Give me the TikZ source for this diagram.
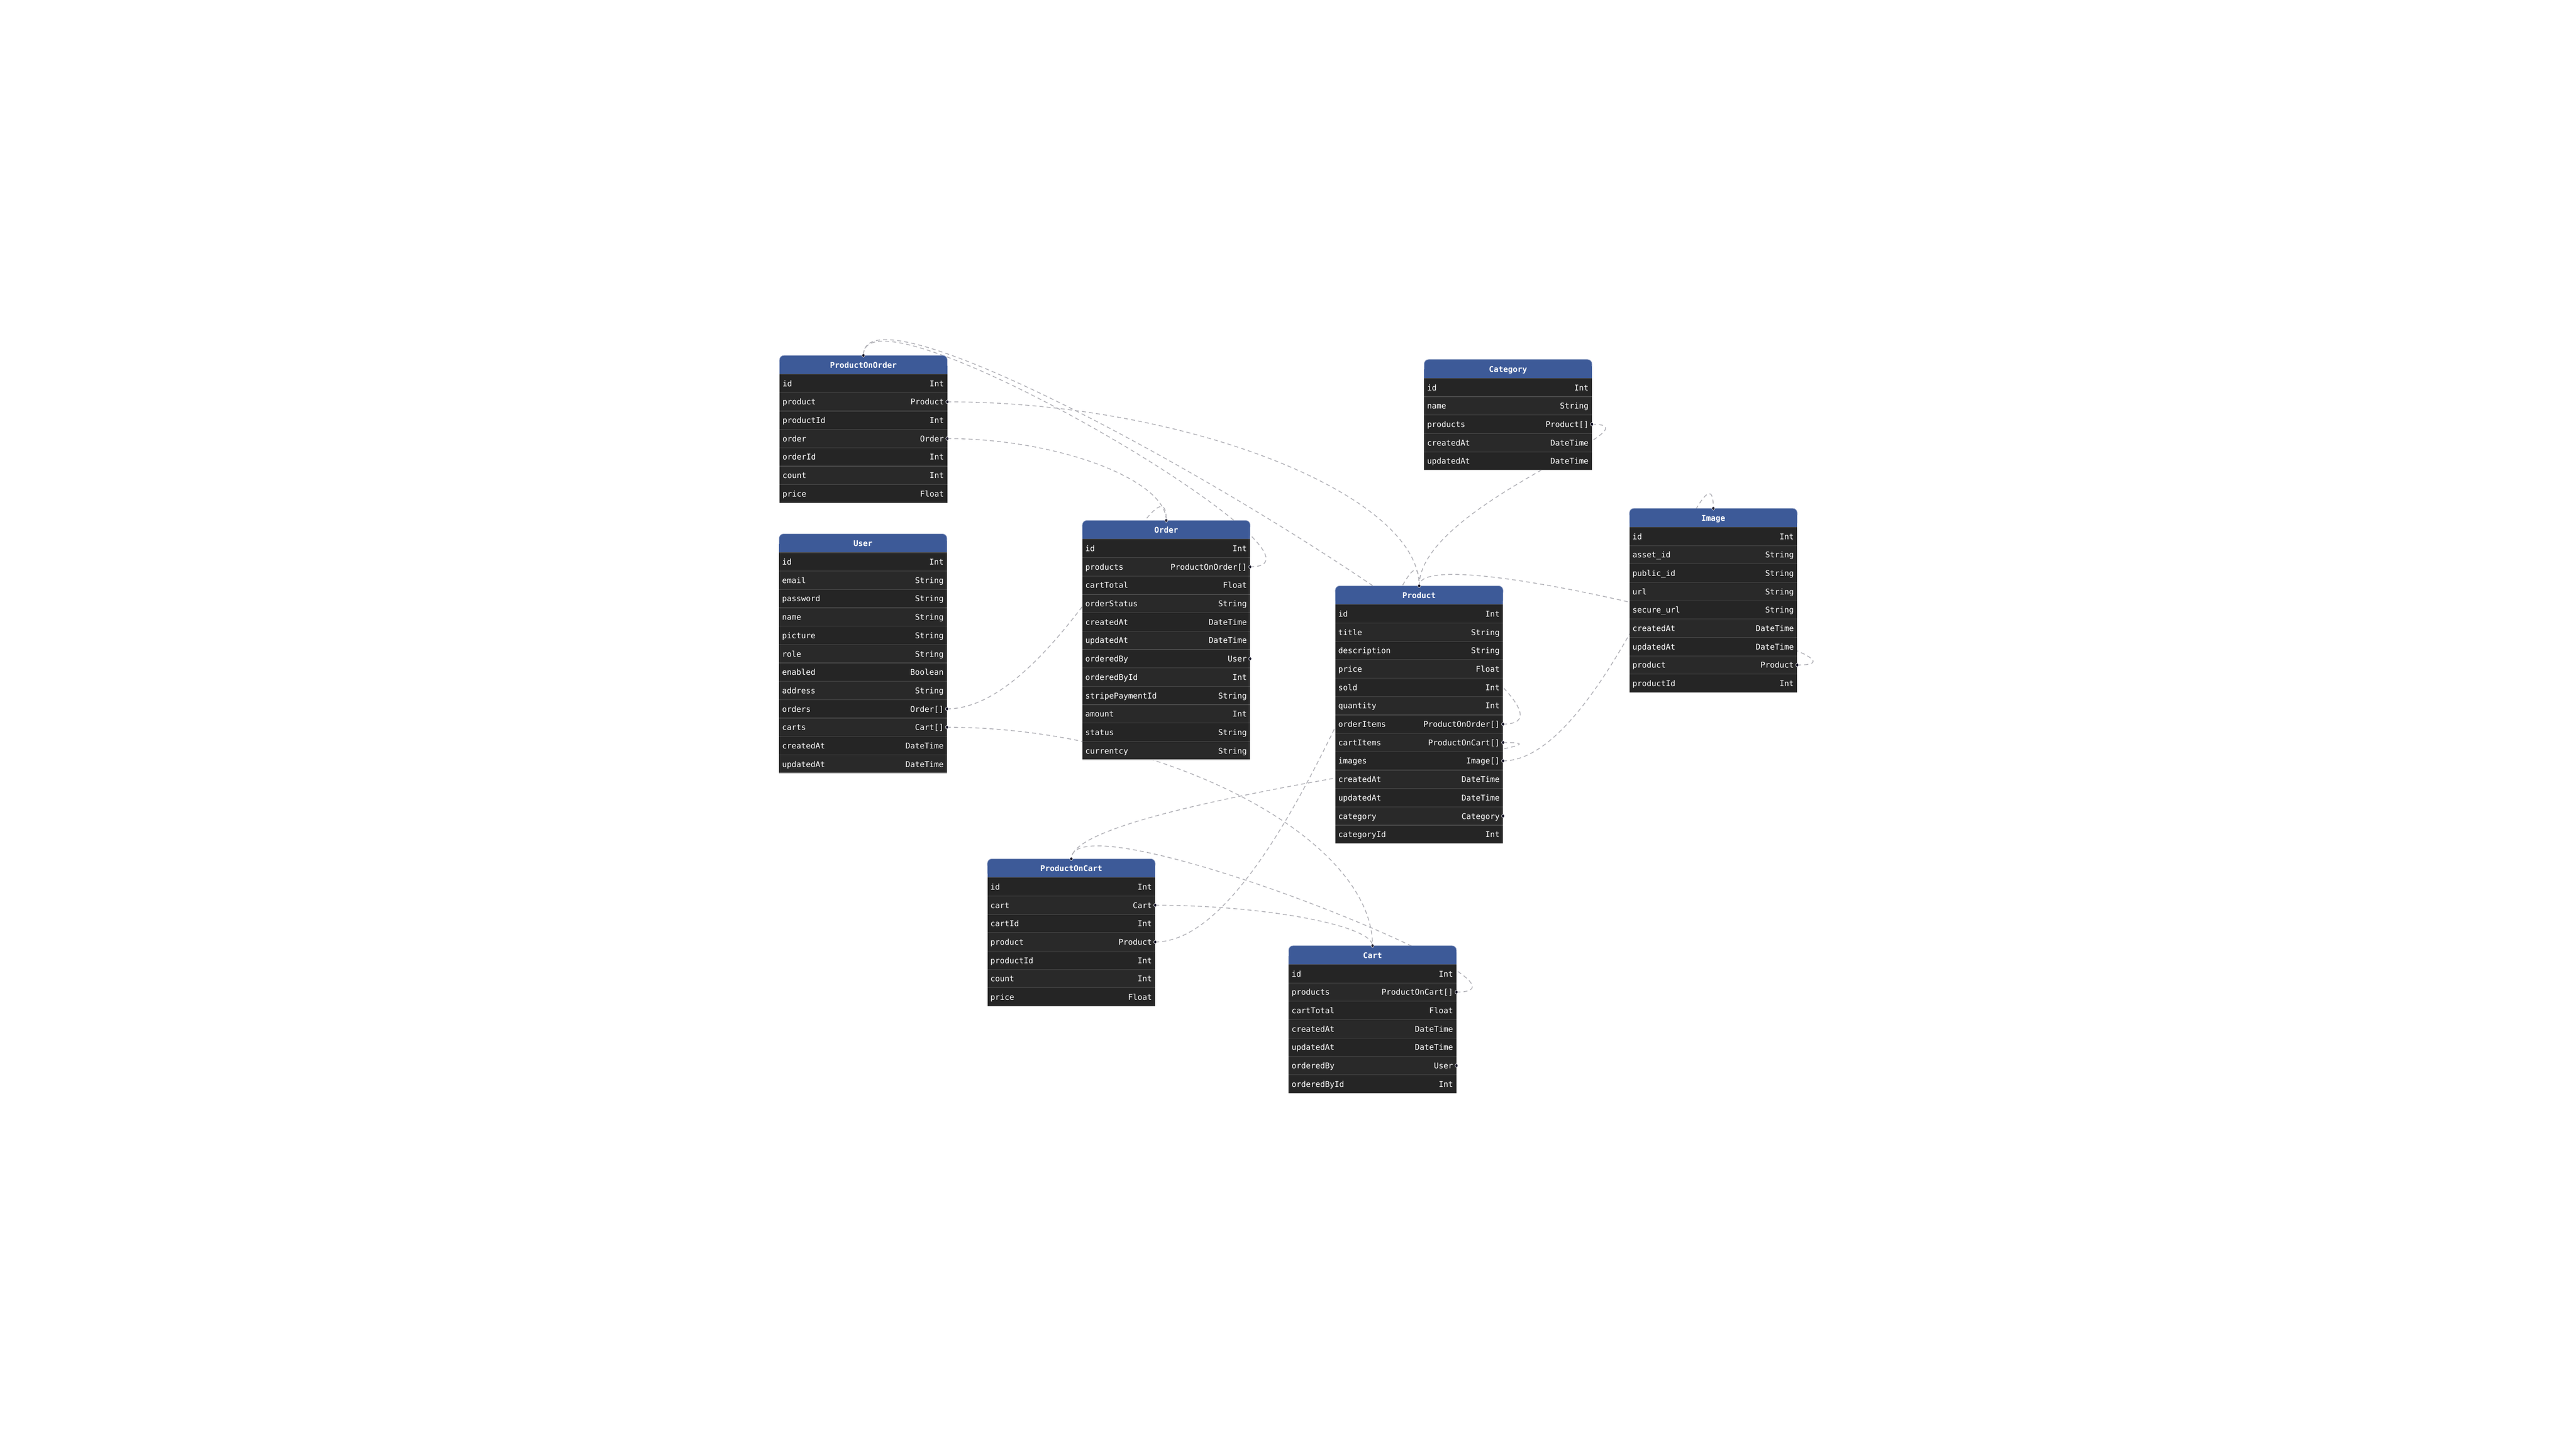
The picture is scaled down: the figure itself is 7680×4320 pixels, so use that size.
\documentclass[tikz,border=0pt]{standalone}
\usepackage{fontspec}
\setmonofont{DejaVu Sans Mono}
\usetikzlibrary{calc}
\definecolor{hdr}{HTML}{3D5A98}
\definecolor{hdrtop}{HTML}{8C9CC2}
\definecolor{rowa}{HTML}{252525}
\definecolor{rowb}{HTML}{292929}
\definecolor{sepc}{HTML}{4A4A4A}
\definecolor{edgec}{HTML}{B1B1B7}
\definecolor{handlec}{HTML}{1A192B}
\definecolor{botc}{HTML}{B8B8B8}
\pgfdeclarelayer{bg}
\pgfdeclarelayer{edges}
\pgfsetlayers{bg,edges,main}
\tikzset{
  hdrtext/.style={text=white, font=\ttfamily\bfseries\fontsize{5.9}{7}\selectfont, inner sep=0pt},
  fieldtext/.style={text=white, font=\ttfamily\fontsize{5.9}{7}\selectfont, inner sep=0pt},
  rel/.style={draw=edgec, line width=0.6pt, dash pattern=on 3pt off 2.3pt},
  hnd/.style={fill=handlec, draw=white, line width=0.25pt},
  sepline/.style={draw=sepc, line width=0.45pt},
  bottomline/.style={draw=botc, line width=0.5pt},
  hdrline/.style={draw=hdrtop, line width=0.35pt, rounded corners=3.3pt},
}
\newcommand{\erdtable}[5]{%
\begin{scope}[shift={(#2,#3)}]
  \fill[hdr,rounded corners=3.3pt] (0,0) rectangle (500,56);
  \fill[hdr] (0,30) rectangle (500,56);
  \draw[hdrline] (0,20) -- (0,0) -- (500,0) -- (500,20);
  \node[hdrtext,anchor=base] (#1-title) at (250,37) {#4};
  \coordinate (#1-top) at (250,0);
  \foreach \fn/\ft [count=\i] in {#5} {
    \pgfmathsetmacro{\ya}{56+54.8*(\i-1)}
    \pgfmathsetmacro{\yb}{56+54.8*\i}
    \pgfmathsetmacro{\yc}{56+54.8*(\i-0.5)}
    \ifodd\i \fill[rowa] (0,\ya) rectangle (500,\yb); \else \fill[rowb] (0,\ya) rectangle (500,\yb); \fi
    \draw[sepline] (0,\ya) -- (500,\ya);
    \node[fieldtext,anchor=base west] (#1-n\i) at (8,\yc+9) {\fn};
    \node[fieldtext,anchor=base east] (#1-t\i) at (491,\yc+9) {\ft};
    \coordinate (#1-r\i) at (500,\yc);
    \xdef\lastrow{\yb}
  }
  \draw[bottomline] (0,\lastrow) -- (500,\lastrow);
\end{scope}}
\begin{document}
\begin{tikzpicture}[x=0.25pt,y=-0.25pt]
\begin{pgfonlayer}{bg}
\fill[white] (0,0) rectangle (7680,4320);
\end{pgfonlayer}
\useasboundingbox (0,0) rectangle (7680,4320);

\erdtable{poo}{2324}{1060}{ProductOnOrder}{id/Int, product/Product, productId/Int, order/Order, orderId/Int, count/Int, price/Float}
\erdtable{user}{2323}{1592}{User}{id/Int, email/String, password/String, name/String, picture/String, role/String, enabled/Boolean, address/String, orders/Order[], carts/Cart[], createdAt/DateTime, updatedAt/DateTime}
\erdtable{order}{3227}{1552}{Order}{id/Int, products/ProductOnOrder[], cartTotal/Float, orderStatus/String, createdAt/DateTime, updatedAt/DateTime, orderedBy/User, orderedById/Int, stripePaymentId/String, amount/Int, status/String, currentcy/String}
\erdtable{category}{4246}{1072}{Category}{id/Int, name/String, products/Product[], createdAt/DateTime, updatedAt/DateTime}
\erdtable{image}{4858}{1516}{Image}{id/Int, asset\_id/String, public\_id/String, url/String, secure\_url/String, createdAt/DateTime, updatedAt/DateTime, product/Product, productId/Int}
\erdtable{product}{3981}{1747}{Product}{id/Int, title/String, description/String, price/Float, sold/Int, quantity/Int, orderItems/ProductOnOrder[], cartItems/ProductOnCart[], images/Image[], createdAt/DateTime, updatedAt/DateTime, category/Category, categoryId/Int}
\erdtable{poc}{2944}{2561}{ProductOnCart}{id/Int, cart/Cart, cartId/Int, product/Product, productId/Int, count/Int, price/Float}
\erdtable{cart}{3842}{2820}{Cart}{id/Int, products/ProductOnCart[], cartTotal/Float, createdAt/DateTime, updatedAt/DateTime, orderedBy/User, orderedById/Int}

\begin{pgfonlayer}{edges}
\draw[rel] (poo-r2) .. controls +(703.5,0) and +(0,-274.5) .. (product-top);
\draw[rel] (poo-r4) .. controls +(326.5,0) and +(0,-122) .. (order-top);
\draw[rel] (order-r2) .. controls +(328.7,0) and +(0,-243) .. (poo-top);
\draw[rel] (product-r7) .. controls +(422.7,0) and +(0,-320.9) .. (poo-top);
\draw[rel] (user-r9) .. controls +(327,0) and +(0,-229.5) .. (order-top);
\draw[rel] (user-r10) .. controls +(634.5,0) and +(0,-325.5) .. (cart-top);
\draw[rel] (category-r3) .. controls +(219.7,0) and +(0,-241) .. (product-top);
\draw[rel] (product-r9) .. controls +(313.5,0) and +(0,-265.6) .. (image-top);
\draw[rel] (image-r8) .. controls +(325,0) and +(0,-148.7) .. (product-top);
\draw[rel] (product-r8) .. controls +(347.3,0) and +(0,-173.5) .. (poc-top);
\draw[rel] (cart-r2) .. controls +(328,0) and +(0,-192.9) .. (poc-top);
\draw[rel] (poc-r2) .. controls +(324,0) and +(0,-60.5) .. (cart-top);
\draw[rel] (poc-r4) .. controls +(393.5,0) and +(0,-315.5) .. (product-top);
\end{pgfonlayer}

\foreach \h in {poo-top,poo-r2,poo-r4,order-top,order-r2,order-r7,user-r9,user-r10,category-r3,image-top,image-r8,product-top,product-r7,product-r8,product-r9,product-r12,poc-top,poc-r2,poc-r4,cart-top,cart-r2,cart-r6}
  \filldraw[hnd] (\h) ellipse [x radius=1.1pt, y radius=1.3pt];
\end{tikzpicture}
\end{document}
